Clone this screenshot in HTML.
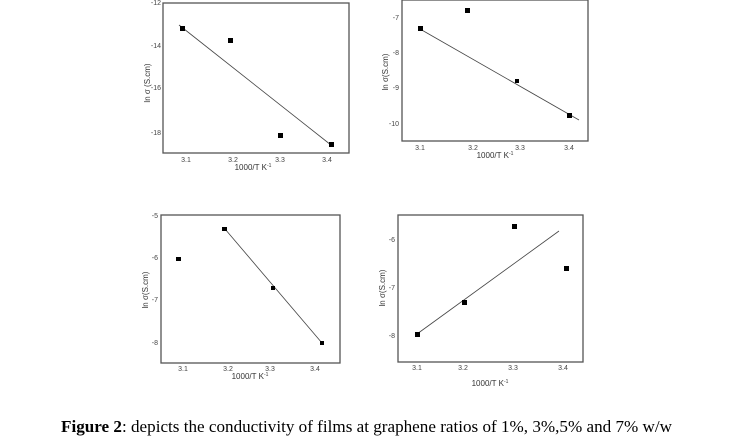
<!DOCTYPE html>
<html><head><meta charset="utf-8"><style>
html,body{margin:0;padding:0;background:#fff;}
svg{display:block;}
.t{font-family:"Liberation Sans",sans-serif;font-size:7px;fill:#444;}
.l{font-family:"Liberation Sans",sans-serif;font-size:8px;fill:#333;}
</style></head><body>
<svg width="735" height="448" viewBox="0 0 735 448" xmlns="http://www.w3.org/2000/svg">
<g stroke="#555" stroke-width="1.3" fill="none">
<rect x="163" y="3" width="186" height="150"/>
<rect x="402" y="0" width="186" height="141"/>
<rect x="161" y="215" width="179" height="148"/>
<rect x="398" y="215" width="185" height="147"/>
</g>
<g stroke="#444" stroke-width="0.8" fill="none">
<line x1="179" y1="25" x2="331" y2="145"/>
<line x1="420" y1="29" x2="579" y2="120"/>
<line x1="225" y1="229" x2="322" y2="343"/>
<line x1="417" y1="334" x2="559" y2="231"/>
</g>
<g fill="#000">
<rect x="180" y="26" width="5" height="5"/><rect x="228" y="38" width="5" height="5"/><rect x="278" y="133" width="5" height="5"/><rect x="329" y="142" width="5" height="5"/>
<rect x="418" y="26" width="5" height="5"/><rect x="465" y="8" width="5" height="5"/><rect x="515" y="79" width="4" height="4"/><rect x="567" y="113" width="5" height="5"/>
<rect x="176" y="257" width="5" height="4"/><rect x="222" y="227" width="5" height="4"/><rect x="271" y="286" width="4" height="4"/><rect x="320" y="341" width="4" height="4"/>
<rect x="415" y="332" width="5" height="5"/><rect x="462" y="300" width="5" height="5"/><rect x="512" y="224" width="5" height="5"/><rect x="564" y="266" width="5" height="5"/>
</g>
<g class="t" text-anchor="middle">
<text x="186" y="162">3.1</text><text x="233" y="162">3.2</text><text x="280" y="162">3.3</text><text x="327" y="162">3.4</text>
<text x="420" y="150">3.1</text><text x="473" y="150">3.2</text><text x="520" y="150">3.3</text><text x="569" y="150">3.4</text>
<text x="183" y="371">3.1</text><text x="228" y="371">3.2</text><text x="270" y="371">3.3</text><text x="315" y="371">3.4</text>
<text x="417" y="370">3.1</text><text x="463" y="370">3.2</text><text x="513" y="370">3.3</text><text x="563" y="370">3.4</text>
</g>
<g class="t" text-anchor="end">
<text x="161" y="5">-12</text><text x="161" y="48">-14</text><text x="161" y="90">-16</text><text x="161" y="135">-18</text>
<text x="399" y="20">-7</text><text x="399" y="55">-8</text><text x="399" y="90">-9</text><text x="399" y="126">-10</text>
<text x="158" y="218">-5</text><text x="158" y="260">-6</text><text x="158" y="302">-7</text><text x="158" y="345">-8</text>
<text x="395" y="242">-6</text><text x="395" y="290">-7</text><text x="395" y="338">-8</text>
</g>
<g class="l" text-anchor="middle">
<text x="253" y="170">1000/T K<tspan font-size="5" dy="-3">-1</tspan></text>
<text x="495" y="158">1000/T K<tspan font-size="5" dy="-3">-1</tspan></text>
<text x="250" y="379">1000/T K<tspan font-size="5" dy="-3">-1</tspan></text>
<text x="490" y="386">1000/T K<tspan font-size="5" dy="-3">-1</tspan></text>
<text transform="translate(150,83) rotate(-90)">ln σ (S.cm)</text>
<text transform="translate(388,72) rotate(-90)">ln σ(S.cm)</text>
<text transform="translate(148,290) rotate(-90)">ln σ(S.cm)</text>
<text transform="translate(385,288) rotate(-90)">ln σ(S.cm)</text>
</g>
<text x="61" y="432" textLength="611" lengthAdjust="spacingAndGlyphs" style="font-family:'Liberation Serif',serif;font-size:17px;fill:#000;"><tspan font-weight="bold">Figure 2</tspan>: depicts the conductivity of films at graphene ratios of 1%, 3%,5% and 7% w/w</text>
</svg>
</body></html>
